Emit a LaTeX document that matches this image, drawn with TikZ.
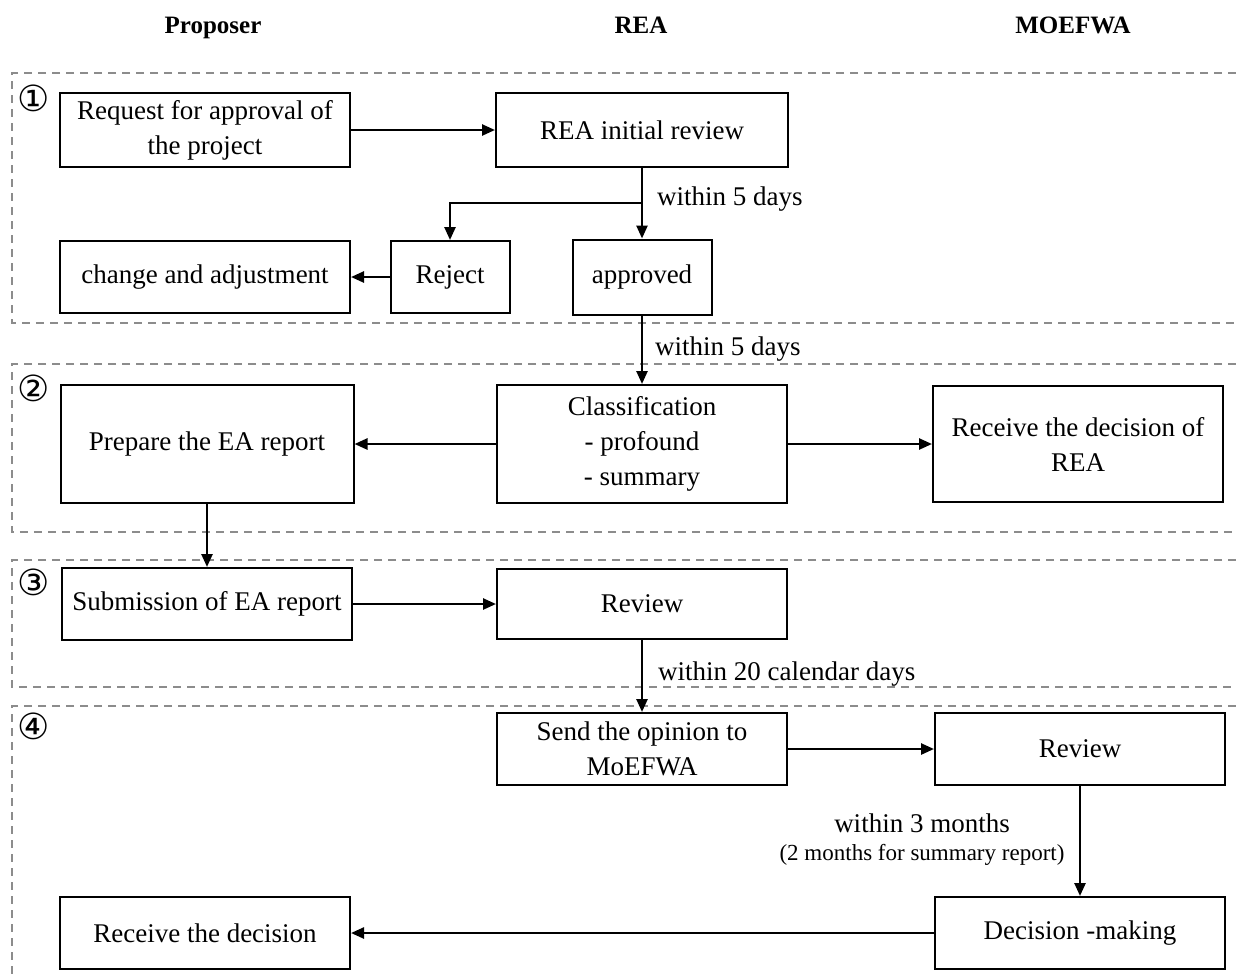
\documentclass[tikz,border=0pt]{standalone}
\usepackage{fontspec}
\setmainfont{Liberation Serif}
\newfontfamily\circfont{DejaVu Sans}
\usetikzlibrary{
  arrows.meta,
}

\begin{document}
\begin{tikzpicture}[
  x=1pt, y=-1pt,
  font=\fontsize{27}{35}\selectfont,
  stage/.style={draw, line width=2pt, align=center, inner sep=2pt,
    minimum width=290pt, minimum height=72pt},
  flow/.style={-{Triangle[length=13pt,width=11pt]}, line width=2.5pt},
  band/.style={draw=black!45, line width=2pt, dash pattern=on 8pt off 6pt},
  head/.style={anchor=base, font=\fontsize{25}{30}\selectfont\bfseries},
  num/.style={font=\fontsize{36}{36}\circfont, inner sep=0pt},
  tag/.style={anchor=base west, inner sep=0pt},
]
\useasboundingbox (0,0) rectangle (1236,978);

% lanes
\node[head] (hprop) at (213,33) {Proposer};
\node[head] (hrea) at (641,33) {REA};
\node[head] (hmoe) at (1073,33) {MOEFWA};

% dashed stages, open to the right
\draw[band] (1250,73) -- (12,73) -- (12,323) -- (1250,323);
\draw[band] (1250,364) -- (12,364) -- (12,532) -- (1250,532);
\draw[band] (1250,560) -- (12,560) -- (12,687) -- (1250,687);
\draw[band] (1250,706) -- (12,706) -- (12,990);
\node[num] (n1) at (34,98) {①};
\node[num] (n2) at (34,388) {②};
\node[num] (n3) at (34,582) {③};
\node[num] (n4) at (34,726) {④};

% stage 1
\node[stage, minimum height=74pt] (req) at (205,130) {Request for approval of\\the project};
\node[stage, minimum width=292pt, minimum height=74pt] (init) at (642,130) {REA initial review};
\node[stage] (chg) at (205,277) {change and adjustment};
\node[stage, minimum width=119pt] (rej) at (450,277) {Reject};
\node[stage, minimum width=139pt, minimum height=75pt] (appr) at (642,277) {approved};
\coordinate (split) at (642,203);

% stage 2
\node[stage, minimum width=293pt, minimum height=118pt] (prep) at (207,444) {Prepare the EA report};
\node[stage, minimum height=118pt] (cls) at (642,444) {Classification\\- profound\\- summary};
\node[stage, minimum height=116pt] (rcvrea) at (1078,444) {Receive the decision of\\REA};

% stage 3
\node[stage] (sub) at (207,604) {Submission of EA report};
\node[stage, minimum height=70pt] (rev) at (642,604) {Review};

% stage 4
\node[stage] (send) at (642,749) {Send the opinion to\\MoEFWA};
\node[stage] (rev2) at (1080,749) {Review};
\node[stage] (dec) at (1080,933) {Decision -making};
\node[stage] (rcv) at (205,933) {Receive the decision};

% labels
\node[tag] (t1) at (657,205) {within 5 days};
\node[tag] (t2) at (655,355) {within 5 days};
\node[tag] (t3) at (658,680) {within 20 calendar days};
\node[anchor=base, inner sep=0pt] (t4) at (922,832) {within 3 months};
\node[anchor=base, inner sep=0pt, font=\fontsize{23}{28}\selectfont] (t5) at (922,860) {(2 months for summary report)};

% arrows
\draw[flow] (req) -- (init);
\draw[flow] (init) -- (appr);
\draw[flow] (split) -| (rej);
\draw[flow] (rej) -- (chg);
\draw[flow] (appr) -- (cls);
\draw[flow] (cls) -- (prep);
\draw[flow] (cls) -- (rcvrea);
\draw[flow] (prep) -- (sub);
\draw[flow] (sub) -- (rev);
\draw[flow] (rev) -- (send);
\draw[flow] (send) -- (rev2);
\draw[flow] (rev2) -- (dec);
\draw[flow] (dec) -- (rcv);
\end{tikzpicture}
\end{document}
